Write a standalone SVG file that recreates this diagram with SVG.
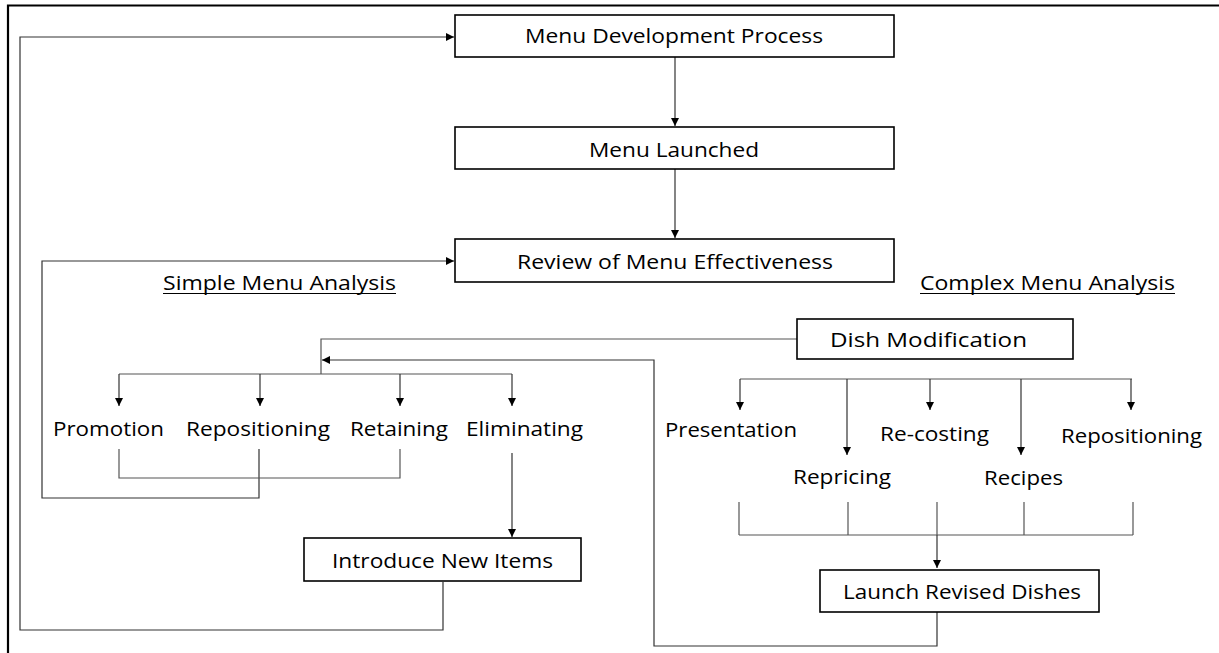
<svg xmlns="http://www.w3.org/2000/svg" width="1219" height="653" viewBox="0 0 1219 653">
<defs>
<marker id="arr" markerUnits="userSpaceOnUse" markerWidth="9" markerHeight="9" refX="8" refY="4" orient="auto">
<path d="M0,0 L8,4 L0,8 z" fill="#000"/>
</marker>
<style>
.box{fill:#fff;stroke:#000;stroke-width:1.6}
.t{font-family:"Open Sans","Liberation Sans",sans-serif;font-size:20.5px;fill:#000}
.c{fill:none;stroke:#555;stroke-width:1.2}
.a{fill:none;stroke:#333;stroke-width:1.2;marker-end:url(#arr)}
.frame{fill:none;stroke:#000;stroke-width:2.2}
</style>
</defs>
<rect width="1219" height="653" fill="#fff"/>
<path class="frame" d="M8,653 V5.5 H1219"/>

<g id="connectors">
<path class="a" d="M443,582 V630 H20 V37 H454"/>
<path class="a" d="M675,57 V126"/>
<path class="a" d="M675,169 V238"/>
<path class="a" d="M259,449 V498 H42 V261 H454"/>
<path class="c" d="M119,449 V478 H400 V449"/>
<path class="c" d="M797,339 H321 V374"/>
<path class="c" d="M119,374 H512"/>
<path class="a" d="M119,374 V406"/>
<path class="a" d="M260,374 V406"/>
<path class="a" d="M400,374 V406"/>
<path class="a" d="M512,374 V406"/>
<path class="a" d="M512,453 V537"/>
<path class="a" d="M937,612 V646 H654 V360 H322"/>
<path class="c" d="M740,379 H1132"/>
<path class="a" d="M740,379 V410"/>
<path class="a" d="M847,379 V455"/>
<path class="a" d="M930,379 V410"/>
<path class="a" d="M1021,379 V455"/>
<path class="a" d="M1131,379 V410"/>
<path class="c" d="M739,502 V535 M848,502 V535 M937,502 V535 M1024,502 V535 M1133,502 V535 M739,535 H1133"/>
<path class="a" d="M937,535 V568"/>
</g>

<g id="menu-development">
<rect class="box" x="455" y="15" width="439" height="42"/>
<text class="t" x="525" y="43" textLength="298" lengthAdjust="spacingAndGlyphs">Menu Development Process</text>
</g>
<g id="menu-launched">
<rect class="box" x="455" y="127" width="439" height="42"/>
<text class="t" x="589" y="157" textLength="170" lengthAdjust="spacingAndGlyphs">Menu Launched</text>
</g>
<g id="review">
<rect class="box" x="455" y="239" width="439" height="43"/>
<text class="t" x="517" y="269" textLength="316" lengthAdjust="spacingAndGlyphs">Review of Menu Effectiveness</text>
</g>
<g id="simple-label">
<text class="t" x="163" y="290" textLength="233" lengthAdjust="spacingAndGlyphs">Simple Menu Analysis</text>
<line x1="163" y1="293.5" x2="396" y2="293.5" stroke="#000" stroke-width="1.2"/>
</g>
<g id="complex-label">
<text class="t" x="920" y="290" textLength="255" lengthAdjust="spacingAndGlyphs">Complex Menu Analysis</text>
<line x1="920" y1="293.5" x2="1175" y2="293.5" stroke="#000" stroke-width="1.2"/>
</g>
<g id="promotion"><text class="t" x="53" y="436" textLength="111" lengthAdjust="spacingAndGlyphs">Promotion</text></g>
<g id="repositioning-simple"><text class="t" x="186" y="436" textLength="144" lengthAdjust="spacingAndGlyphs">Repositioning</text></g>
<g id="retaining"><text class="t" x="350" y="436" textLength="98" lengthAdjust="spacingAndGlyphs">Retaining</text></g>
<g id="eliminating"><text class="t" x="466" y="436" textLength="117" lengthAdjust="spacingAndGlyphs">Eliminating</text></g>
<g id="introduce">
<rect class="box" x="304" y="538" width="277" height="43"/>
<text class="t" x="332" y="568" textLength="221" lengthAdjust="spacingAndGlyphs">Introduce New Items</text>
</g>
<g id="dish-modification">
<rect class="box" x="797" y="319" width="276" height="40"/>
<text class="t" x="830" y="347" textLength="197" lengthAdjust="spacingAndGlyphs">Dish Modification</text>
</g>
<g id="presentation"><text class="t" x="665" y="437" textLength="132" lengthAdjust="spacingAndGlyphs">Presentation</text></g>
<g id="repricing"><text class="t" x="793" y="484" textLength="98" lengthAdjust="spacingAndGlyphs">Repricing</text></g>
<g id="re-costing"><text class="t" x="880" y="441" textLength="109" lengthAdjust="spacingAndGlyphs">Re-costing</text></g>
<g id="recipes"><text class="t" x="984" y="485" textLength="79" lengthAdjust="spacingAndGlyphs">Recipes</text></g>
<g id="repositioning-complex"><text class="t" x="1061" y="443" textLength="141" lengthAdjust="spacingAndGlyphs">Repositioning</text></g>
<g id="launch-revised">
<rect class="box" x="820" y="570" width="279" height="42"/>
<text class="t" x="843" y="599" textLength="238" lengthAdjust="spacingAndGlyphs">Launch Revised Dishes</text>
</g>
</svg>
